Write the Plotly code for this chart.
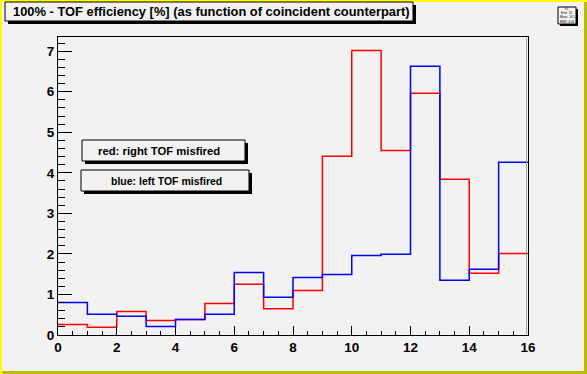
import plotly.graph_objects as go

# ---- data ----
bin_edges = list(range(0, 17))
red_right_tof_misfired = [0.26, 0.19, 0.58, 0.36, 0.38, 0.78, 1.25, 0.65,
                          1.10, 4.41, 7.02, 4.55, 5.96, 3.84, 1.52, 2.01]
blue_left_tof_misfired = [0.80, 0.51, 0.46, 0.21, 0.38, 0.51, 1.54, 0.93,
                          1.42, 1.49, 1.96, 1.99, 6.63, 1.35, 1.62, 4.26]
title_text = "100% - TOF efficiency [%] (as function of coincident counterpart)"
label_red = "red: right TOF misfired"
label_blue = "blue: left TOF misfired"
x_ticks = [0, 2, 4, 6, 8, 10, 12, 14, 16]
y_ticks = [0, 1, 2, 3, 4, 5, 6, 7]

W, H = 587, 374
L, R, T, B = 58, 528, 37, 335
BG = "#f2f2f2"
FONT = "Liberation Sans"


def px(x):
    return (x - L) / (R - L)


def py(y):
    return (B - y) / (B - T)


fig = go.Figure()
for vals, col in [(red_right_tof_misfired, "#ff0000"), (blue_left_tof_misfired, "#0000ff")]:
    fig.add_trace(go.Scatter(
        x=bin_edges, y=vals + [vals[-1]], mode="lines",
        line=dict(color=col, width=1.5, shape="hv"),
        showlegend=False, hoverinfo="skip"))

shapes = []
annotations = []


def pave(x0, y0, x1, y1, sh=3):
    shapes.append(dict(type="rect", xref="paper", yref="paper",
                       x0=px(x0 + sh), x1=px(x1 + sh), y0=py(y0 + sh), y1=py(y1 + sh),
                       fillcolor="black", line=dict(width=0), layer="above"))
    shapes.append(dict(type="rect", xref="paper", yref="paper",
                       x0=px(x0), x1=px(x1), y0=py(y0), y1=py(y1),
                       fillcolor=BG, line=dict(color="black", width=1), layer="above"))


# canvas border (ROOT highlighted canvas)
shapes.append(dict(type="rect", xref="paper", yref="paper", x0=px(0), x1=px(2), y0=py(0), y1=py(H),
                   fillcolor="#ffff00", line=dict(width=0), layer="above"))
shapes.append(dict(type="rect", xref="paper", yref="paper", x0=px(0), x1=px(W), y0=py(0), y1=py(2),
                   fillcolor="#ffff00", line=dict(width=0), layer="above"))
shapes.append(dict(type="rect", xref="paper", yref="paper", x0=px(W - 3), x1=px(W), y0=py(2), y1=py(H),
                   fillcolor="#bfbb00", line=dict(width=0), layer="above"))
shapes.append(dict(type="rect", xref="paper", yref="paper", x0=px(2), x1=px(W), y0=py(H - 3), y1=py(H),
                   fillcolor="#bfbb00", line=dict(width=0), layer="above"))

# frame inner shadow on right edge
shapes.append(dict(type="line", xref="paper", yref="paper", x0=px(R - 1.5), x1=px(R - 1.5),
                   y0=py(B - 1), y1=py(T + 1), line=dict(color="#a0a0a0", width=1), layer="above"))

# title pave
pave(5, 2, 413, 21)
annotations.append(dict(xref="paper", yref="paper", x=px(11), y=py(11.5), xanchor="left", yanchor="middle",
                        text=title_text, showarrow=False,
                        font=dict(family=FONT, size=12.9, color="black", weight="bold")))

# stats pave (tiny)
pave(558, 7, 576, 24, sh=2)
for i, s in enumerate(["h1", "Entri  16", "Mean  10.1", "RMS  4.06"]):
    annotations.append(dict(xref="paper", yref="paper", x=px(567), y=py(9.5 + i * 4), xanchor="center",
                            yanchor="middle", text=s, showarrow=False,
                            font=dict(family=FONT, size=3, color="black")))

# label boxes
pave(82, 140, 245, 161)
annotations.append(dict(xref="paper", yref="paper", x=px(158.5), y=py(150.5), xanchor="center", yanchor="middle",
                        text=label_red, showarrow=False,
                        font=dict(family=FONT, size=11.3, color="black", weight="bold")))
pave(81, 170, 249, 191)
annotations.append(dict(xref="paper", yref="paper", x=px(166), y=py(180.5), xanchor="center", yanchor="middle",
                        text=label_blue, showarrow=False,
                        font=dict(family=FONT, size=10.5, color="black", weight="bold")))

tickfont = dict(family=FONT, size=13.5, color="black", weight="bold")
fig.update_layout(
    width=W, height=H, autosize=False,
    margin=dict(l=L, r=W - R, t=T, b=H - B, pad=0),
    paper_bgcolor=BG, plot_bgcolor=BG,
    shapes=shapes, annotations=annotations,
    xaxis=dict(range=[0, 16], tickvals=x_ticks, ticktext=[str(v) for v in x_ticks],
               ticks="inside", ticklen=9, tickwidth=1, tickcolor="black",
               minor=dict(dtick=0.5, ticks="inside", ticklen=4.5, tickcolor="black", tickwidth=1),
               showline=True, linecolor="black", linewidth=1, mirror=True,
               showgrid=False, zeroline=False, tickfont=tickfont),
    yaxis=dict(range=[0, 7.35], tickvals=y_ticks, ticktext=[str(v) for v in y_ticks],
               ticks="inside", ticklen=14, tickwidth=1, tickcolor="black",
               minor=dict(dtick=0.2, ticks="inside", ticklen=7, tickcolor="black", tickwidth=1),
               showline=True, linecolor="black", linewidth=1, mirror=True,
               showgrid=False, zeroline=False, tickfont=tickfont),
)

fig.write_html("out.html", config={"displayModeBar": False},
               post_script="document.body.style.margin='0';document.body.style.background='#f2f2f2';")
